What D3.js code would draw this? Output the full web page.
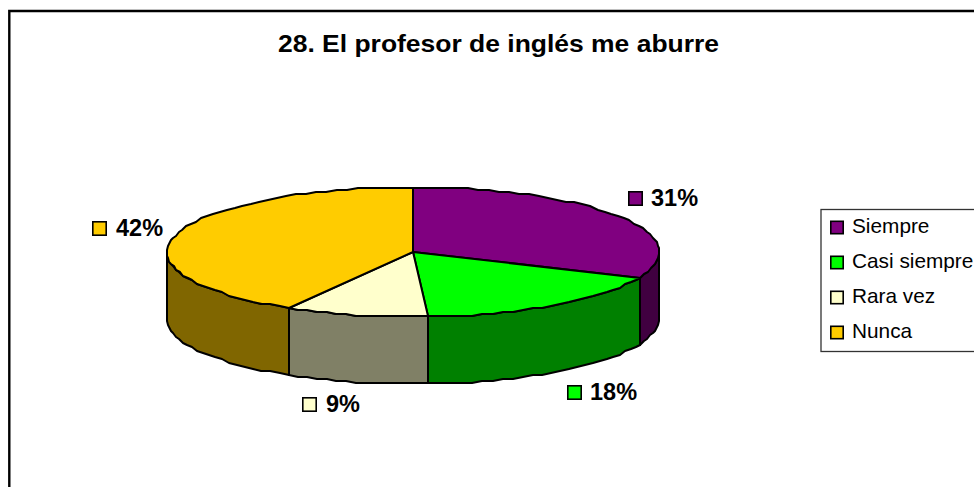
<!DOCTYPE html>
<html><head><meta charset="utf-8">
<script src="https://cdn.jsdelivr.net/npm/d3@7/dist/d3.min.js"></script>
<style>html,body{margin:0;padding:0;background:#fff;overflow:hidden}svg{display:block}text{font-family:"Liberation Sans",Arial,sans-serif;fill:#000}</style>
</head><body><svg id="c" width="974" height="487"></svg>
<script>
const title = "28. El profesor de inglés me aburre";
const categories = ["Siempre","Casi siempre","Rara vez","Nunca"];
const values = [31.3,17.7,9.4,41.6];
const labels = ["31%","18%","9%","42%"];
const topColors = ["#800080","#00ff00","#ffffcc","#ffcc00"];
const sideColors = ["#400040","#008000","#808066","#806600"];

const svg = d3.select("#c");
const W=974,H=487;
svg.append("path").attr("d",`M9.3,${H}V11H${W}`).attr("fill","none").attr("stroke","#000").attr("stroke-width",2.4);
svg.append("text").attr("x",278).attr("y",52).attr("textLength",441).attr("lengthAdjust","spacingAndGlyphs")
  .attr("font-size",24.5).attr("font-weight","bold").text(title);

const px = d3.scaleLinear().domain([-1,1]).range([167,659]);
const py = d3.scaleLinear().domain([-1,1]).range([187,317]);
const depth = 67;
const arcs = d3.pie().sort(null).value(d=>d).startAngle(0).endAngle(2*Math.PI)(values);
const pt=(a,dy=0)=>[Math.round(px(Math.sin(a))),Math.round(py(-Math.cos(a))/2)*2+dy];
function rim(a0,a1,dy=0){
  const n=Math.max(1,Math.ceil((a1-a0)/(2.6*Math.PI/180)));
  return d3.range(n+1).map(i=>pt(a0+(a1-a0)*i/n,dy));
}
const line=d3.line();
const g=svg.append("g").attr("stroke","#000").attr("stroke-width",2).attr("stroke-linejoin","round");
arcs.forEach((d,i)=>{
  const a0=Math.max(d.startAngle,Math.PI/2),a1=Math.min(d.endAngle,3*Math.PI/2);
  if(a1<=a0)return;
  const p=rim(a0,a1).concat(rim(a0,a1,depth).reverse());
  g.append("path").attr("d",line(p)+"Z").attr("fill",sideColors[i]);
});
arcs.forEach((d,i)=>{
  const p=[[px(0),py(0)]].concat(rim(d.startAngle,d.endAngle));
  g.append("path").attr("d",line(p)+"Z").attr("fill",topColors[i]);
});
const labelPos=[[628,191],[567,385],[302,397],[92,221]];
const labelGap=[23,23,24,24];
labels.forEach((t,i)=>{
  const [x,y]=labelPos[i];
  svg.append("rect").attr("x",x+.8).attr("y",y+.8).attr("width",13.4).attr("height",13.4)
    .attr("fill",topColors[i]).attr("stroke","#000").attr("stroke-width",1.6);
  svg.append("text").attr("x",x+labelGap[i]).attr("y",y+15).attr("font-size",23.5).attr("font-weight","bold").text(t);
});
svg.append("rect").attr("x",821).attr("y",209.5).attr("width",170).attr("height",142)
  .attr("fill","#fff").attr("stroke","#333").attr("stroke-width",1.3);
const ly=d3.scalePoint().domain(categories).range([227.5,332.5]);
categories.forEach((c,i)=>{
  svg.append("rect").attr("x",830.8).attr("y",ly(c)-6.2).attr("width",12.4).attr("height",12.4)
    .attr("fill",topColors[i]).attr("stroke","#000").attr("stroke-width",1.6);
  svg.append("text").attr("x",852).attr("y",ly(c)+5.3).attr("font-size",20.8).text(c);
});
</script></body></html>
